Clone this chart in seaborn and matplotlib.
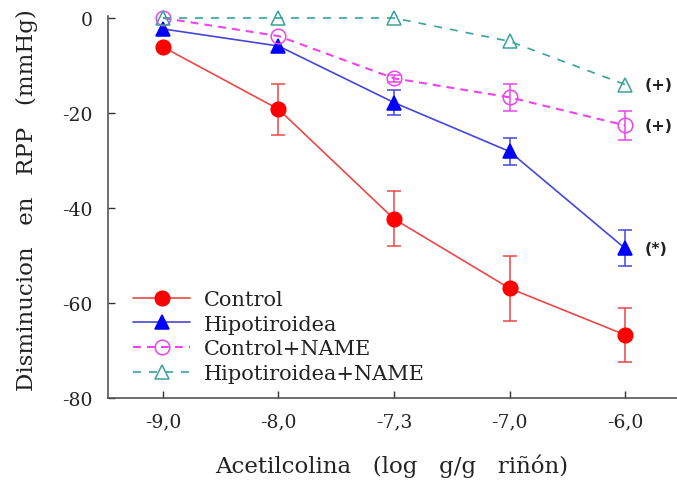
import numpy as np
import pandas as pd
import matplotlib
matplotlib.use("Agg")
import matplotlib.pyplot as plt
import seaborn as sns

# ---- data ----
doses = ["-9,0", "-8,0", "-7,3", "-7,0", "-6,0"]
control = [-6.1, -19.2, -42.3, -56.9, -66.7]
control_err = [0.0, 5.4, 5.8, 6.8, 5.7]
hipo = [-2.3, -5.9, -17.8, -28.1, -48.5]
hipo_err = [0.0, 0.0, 2.6, 2.9, 3.8]
control_name = [0.0, -3.8, -12.7, -16.7, -22.6]
control_name_err = [0.0, 0.0, 0.8, 2.8, 3.0]
hipo_name = [0.0, 0.0, 0.0, -4.9, -14.0]
hipo_name_err = [0.0, 0.0, 0.0, 0.0, 0.0]
labels = ["Control", "Hipotiroidea", "Control+NAME", "Hipotiroidea+NAME"]
annotations = {"Hipotiroidea+NAME": "(+)", "Control+NAME": "(+)", "Hipotiroidea": "(*)"}

sns.set_theme(style="ticks")
plt.rcParams['font.family'] = ['DejaVu Serif']

series = [
    (labels[0], control, control_err, dict(line="#ea4848", mfc="#ff0000", mec="#ff0000", marker="o", ls="-", lw=1.2)),
    (labels[1], hipo, hipo_err, dict(line="#4646d6", mfc="#0000ff", mec="#0000ff", marker="^", ls="-", lw=1.2)),
    (labels[2], control_name, control_name_err, dict(line="#ee44ee", mfc="none", mec="#ee44ee", marker="o", ls=(0, (3.8, 2.9)), lw=1.5)),
    (labels[3], hipo_name, hipo_name_err, dict(line="#3aa39a", mfc="none", mec="#3aa39a", marker="^", ls=(0, (4.8, 4.8)), lw=1.2)),
]

fig = plt.figure(figsize=(6.77, 4.81), dpi=100)
ax = fig.add_axes([108/677, 82/481, 569/677, 381.9/481])

xpos = np.arange(len(doses))
for name, vals, errs, st in series:
    df = pd.DataFrame({"x": xpos, "y": vals})
    sns.lineplot(data=df, x="x", y="y", ax=ax, color=st["line"], linewidth=st["lw"],
                 linestyle=st["ls"], marker=st["marker"], markersize=10.5,
                 markerfacecolor=st["mfc"], markeredgecolor=st["mec"], markeredgewidth=1.1,
                 label=name, clip_on=False, zorder=3)
    e = np.array(errs)
    m = e > 0
    ax.errorbar(xpos[m], np.array(vals)[m], yerr=e[m], fmt="none", ecolor=st["line"],
                elinewidth=1.1, capsize=4.7, capthick=1.1, zorder=2)
    if name in annotations:
        ax.text(xpos[-1] + 0.17, vals[-1], annotations[name], fontsize=11.5,
                fontweight="bold", family="DejaVu Sans", va="center", ha="left", color="#222222")

ax.set_xlim(-0.476, 4.45)
ax.set_ylim(-80, 0.4)
ax.set_xticks(xpos)
ax.set_xticklabels(doses)
ax.set_yticks([0, -20, -40, -60, -80])
ax.set_yticklabels(["0", "-20", "-40", "-60", "-80"])
ax.tick_params(direction="in", length=5, width=1, colors="#333333", labelsize=13.5)
ax.tick_params(axis="y", pad=11)
ax.tick_params(axis="x", pad=10)
for lab in ax.get_xticklabels() + ax.get_yticklabels():
    lab.set_color("#222222")
for s in ["top", "right"]:
    ax.spines[s].set_visible(False)
for s in ["left", "bottom"]:
    ax.spines[s].set_color("#555555")
    ax.spines[s].set_linewidth(1.2)

ax.set_xlabel("Acetilcolina   (log   g/g   riñón)", fontsize=16.5, color="#222222")
ax.set_ylabel("Disminucion   en   RPP   (mmHg)", fontsize=16.5, color="#222222")
ax.xaxis.set_label_coords(0.499, -0.145)
ax.yaxis.set_label_coords(-0.123, 0.52)

leg = ax.legend(loc="upper left", bbox_to_anchor=(0.044, 0.283), frameon=False, fontsize=15,
                handlelength=2.75, labelspacing=0.27, handletextpad=0.67, borderaxespad=0.0,
                borderpad=0.0)
for t in leg.get_texts():
    t.set_color("#222222")

fig.savefig("out.png", dpi=100)
